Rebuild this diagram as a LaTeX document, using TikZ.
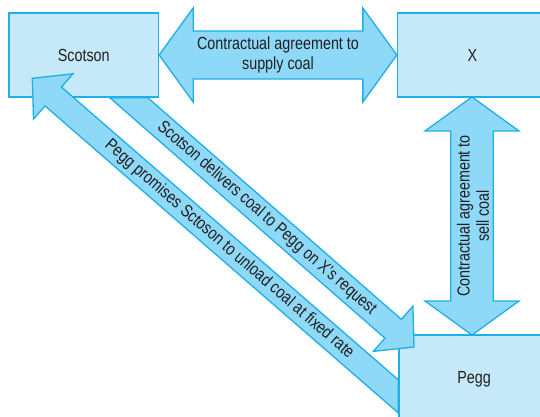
\documentclass[tikz,border=0pt]{standalone}
\usepackage{fontspec}
\setmainfont{Liberation Sans}[FakeStretch=0.82]
\usetikzlibrary{calc}

\definecolor{boxfill}{HTML}{C5E9F8}
\definecolor{arrowfill}{HTML}{8ED8F8}
\definecolor{edgeblue}{HTML}{1EAEE8}
\definecolor{ink}{HTML}{231F20}

\tikzset{
  party/.style={draw=edgeblue, fill=boxfill, line width=1.3pt,
    minimum width=150pt, minimum height=84pt, inner sep=0pt,
    text height=12.4pt, text depth=0pt,
    font=\fontsize{17.5}{19.3}\selectfont, text=ink},
  blockarrow/.style={draw=edgeblue, fill=arrowfill, line width=1.3pt, line join=miter},
  lbl/.style={font=\fontsize{17.5}{19.3}\selectfont, text=ink, align=center, inner sep=0pt},
}

% Double-headed block arrow between two points:
% #1,#2 ends, #3 shaft half-width, #4 head half-width, #5 head length, #6 name
\newcommand\dblarrow[6]{%
  \coordinate (#6A) at ($(#1)!#5!(#2)$);
  \coordinate (#6B) at ($(#2)!#5!(#1)$);
  \draw[blockarrow] (#1)
    -- ($(#6A)!#4!90:(#2)$) -- ($(#6A)!#3!90:(#2)$)
    -- ($(#6B)!#3!-90:(#1)$) -- ($(#6B)!#4!-90:(#1)$)
    -- (#2)
    -- ($(#6B)!#4!90:(#1)$) -- ($(#6B)!#3!90:(#1)$)
    -- ($(#6A)!#3!-90:(#2)$) -- ($(#6A)!#4!-90:(#2)$)
    -- cycle;
}

% Single block arrow whose tail is cut along a box edge:
% #1 tail centre, #2 tip, #3,#4 points of the edge line, #5 name
\newcommand\edgearrow[5]{%
  \coordinate (#5B) at ($(#2)!27.7pt!(#1)$);
  \coordinate (#5NA) at ($(#5B)!12.5pt!-90:(#1)$);
  \coordinate (#5EA) at ($(#1)!12.5pt!90:(#2)$);
  \coordinate (#5NB) at ($(#5B)!12.5pt!90:(#1)$);
  \coordinate (#5EB) at ($(#1)!12.5pt!-90:(#2)$);
  \coordinate (#5TA) at (intersection of #5NA--#5EA and #3--#4);
  \coordinate (#5TB) at (intersection of #5NB--#5EB and #3--#4);
  \draw[blockarrow] (#5TA) -- (#5NA) -- ($(#5B)!30pt!-90:(#1)$) -- (#2)
    -- ($(#5B)!30pt!90:(#1)$) -- (#5NB) -- (#5TB) -- cycle;
}

\begin{document}
\begin{tikzpicture}[x=1pt, y=-1pt]
  \path[use as bounding box] (0,0) rectangle (540,417);
  \clip (0,0) rectangle (540,417);
  \fill[white] (0,0) rectangle (540,417);

  % the three parties
  \node[party, minimum width=149.5pt] (scotson) at (83.75,55) {Scotson};
  \node[party] (x) at (472.5,55) {X};
  \node[party] (pegg) at (474,377) {Pegg};

  % edge lines where the diagonal arrows leave the boxes
  \coordinate (sSW) at (scotson.south west);
  \coordinate (sSE) at (scotson.south east);
  \coordinate (pNW) at (pegg.north west);
  \coordinate (pSW) at (pegg.south west);

  % Scotson <-> X
  \dblarrow{scotson.east}{x.west}{24pt}{47pt}{34pt}{h}
  \node[lbl] (supply) at ($(scotson.east)!0.5!(x.west)$)
    {Contractual agreement to\\supply coal};

  % X <-> Pegg
  \coordinate (vtop) at (472,97);
  \coordinate (vbot) at (472,335);
  \dblarrow{vtop}{vbot}{21.3pt}{47pt}{34pt}{v}
  \node[lbl, rotate=90] (sell) at ($(vtop)!0.5!(vbot)+(1,0)$)
    {Contractual agreement to\\sell coal};

  % Pegg -> Scotson
  \coordinate (ptail) at (399,397);
  \coordinate (ptip) at (32.3,78.3);
  \edgearrow{ptail}{ptip}{pNW}{pSW}{pr}
  \path (ptail) -- (prB)
    node[lbl, sloped, pos=0.491] (promise)
    {Pegg promises Sctoson to unload coal at fixed rate};

  % Scotson -> Pegg
  \coordinate (stail) at (128,97);
  \coordinate (stip) at (414,347);
  \edgearrow{stail}{stip}{sSW}{sSE}{de}
  \path (stail) -- (deB)
    node[lbl, sloped, pos=0.523] (deliver)
    {Scotson delivers coal to Pegg on X’s request};
\end{tikzpicture}
\end{document}
